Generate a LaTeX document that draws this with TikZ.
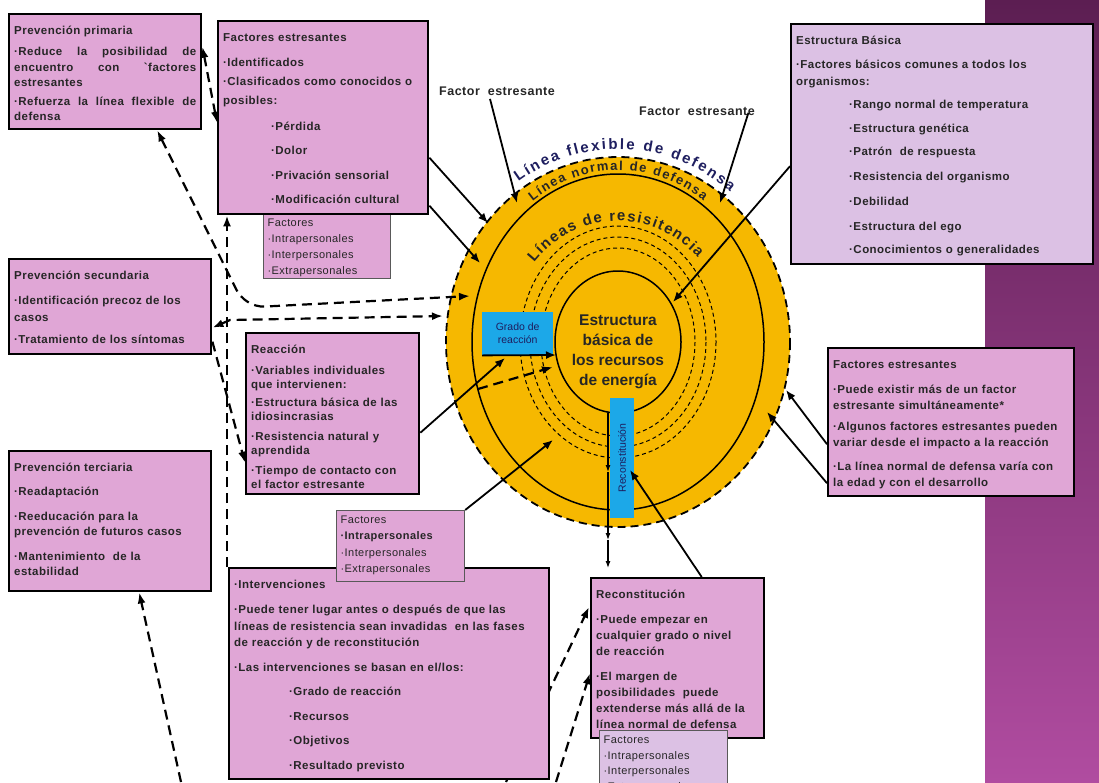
\documentclass[tikz,border=0pt]{standalone}
\usepackage{fontspec}
\setmainfont{Liberation Sans}
\newfontfamily\slidefont{Liberation Sans}[LetterSpace=4]
\newfontfamily\arcfont{Liberation Sans}
\usetikzlibrary{arrows.meta,decorations.text}

\definecolor{pinkbox}{RGB}{224,166,214}
\definecolor{lilabox}{RGB}{220,193,228}
\definecolor{discorange}{RGB}{246,184,0}
\definecolor{bluebar}{RGB}{28,168,232}
\definecolor{inknavy}{RGB}{30,30,95}
\definecolor{inkgray}{RGB}{38,38,38}
\definecolor{bandtop}{RGB}{92,30,82}
\definecolor{bandbot}{RGB}{176,76,160}

\newcommand\flexfont{\arcfont\bfseries\fontsize{15}{15}\selectfont\color{inknavy}}
\newcommand\defensefont{\arcfont\bfseries\fontsize{13}{13}\selectfont\color{inkgray}}
\newcommand\resistfont{\arcfont\bfseries\fontsize{15}{15}\selectfont\color{inkgray}}

\begin{document}
\begin{tikzpicture}[x=1pt,y=-1pt,
    box/.style = {draw, line width=2.4pt, fill=pinkbox, anchor=north west, align=left,
      inner xsep=5pt, inner ysep=6pt, text height=14pt, text=inkgray,
      font=\slidefont\bfseries\fontsize{11.5}{#1}\selectfont},
    box/.default = 16,
    factbox/.style = {draw=black!65, line width=1.2pt, fill=pinkbox, anchor=north west, align=left,
      inner xsep=4pt, inner ysep=3pt, text height=10pt, text=inkgray,
      font=\slidefont\fontsize{11}{#1}\selectfont},
    factbox/.default = 16,
    bar/.style = {fill=bluebar, inner sep=0pt, align=center, text=inknavy,
      font=\fontsize{10.5}{13}\selectfont},
    stresslbl/.style = {font=\slidefont\bfseries\fontsize{12.5}{14}\selectfont, text=inkgray},
    arr/.style = {line width=1.8pt, -{Latex[length=10pt,width=8pt]}},
    thinarr/.style = {line width=1.1pt, -{Latex[length=7pt,width=5pt]}},
    dasharr/.style = {line width=2.2pt, dash pattern=on 10pt off 6pt, -{Latex[length=11pt,width=8pt]}},
    dboth/.style = {dasharr, {Latex[length=11pt,width=8pt]}-{Latex[length=11pt,width=8pt]}},
    ring/.style = {line width=1pt, dash pattern=on 4pt off 3pt},
  ]
  \path[use as bounding box, fill=white] (0,0) rectangle (1099,782);
  % purple band on the right
  \shade[top color=bandtop, bottom color=bandbot] (985,0) rectangle (1099,782);

  % the rings
  \coordinate (ctr) at (618,342);
  \fill[discorange] (ctr) ellipse [x radius=172, y radius=185];
  \draw[line width=1.8pt, dash pattern=on 8pt off 5pt] (ctr) ellipse [x radius=172, y radius=185];
  \draw[line width=1.5pt] (ctr) ellipse [x radius=146, y radius=168];
  \foreach \rx/\ry in {77/94, 88/105, 98/116}
    \draw[ring] (ctr) ellipse [x radius=\rx, y radius=\ry];
  \draw[line width=1.5pt] (ctr) ellipse [x radius=63, y radius=71];

  \path[decorate, decoration={text along path, text align={fit to path},
      text={|\flexfont|Línea flexible de defensa}}]
    (ctr) ++(236:178 and 193) arc[start angle=236, end angle=309, x radius=178, y radius=193];
  \path[decorate, decoration={text along path, text align={fit to path},
      text={|\defensefont|Línea normal de defensa}}]
    (ctr) ++(235:149 and 172) arc[start angle=235, end angle=305, x radius=149, y radius=172];
  \path[decorate, decoration={text along path, text align={fit to path},
      text={|\resistfont|Líneas de resisitencia}}]
    (ctr) ++(221:111 and 121) arc[start angle=221, end angle=316, x radius=111, y radius=121];

  \node[font=\bfseries\fontsize{15.5}{20}\selectfont, align=center, text=inkgray] (core) at (618,352)
    {Estructura\\básica de\\los recursos\\de energía};
  \node[bar, anchor=north west, minimum width=71pt, minimum height=43pt] (grado) at (482,312) {Grado de\\reacción};
  \node[bar, rotate=90, minimum width=120pt, minimum height=24pt] (reconbar) at (622,458) {Reconstitución};

  % targets on the rings
  \coordinate (t1) at (517,203);
  \coordinate (t2) at (720,203);
  \coordinate (t3) at (488,223);
  \coordinate (t4) at (480,263);
  \coordinate (t5) at (673,302);
  \coordinate (t6) at (786,390);
  \coordinate (t7) at (767,412);
  \coordinate (t8) at (505,358);
  \coordinate (t9) at (553,440);
  \coordinate (t10) at (630,470);
  \coordinate (g2) at (556,355);
  \coordinate (r0) at (608,413);
  \coordinate (r1) at (608,472);
  \coordinate (r2) at (608,540);
  \coordinate (r3) at (608,568);
  \coordinate (c1) at (470,296);
  \coordinate (c2) at (443,316);
  \coordinate (c3) at (478,389);
  \coordinate (c4) at (553,367);
  \coordinate (bend1) at (240,297);
  \coordinate (bend2) at (256,307);
  \coordinate (bend3) at (230,320);
  \coordinate (b1) at (181,782);
  \coordinate (b2) at (506,782);
  \coordinate (b3) at (556,782);
  \coordinate (rc1) at (589,607);

  % boxes
  \node[factbox=16, text width=119pt, text depth=49pt] (fsub1) at (263,213)
    {Factores\\·Intrapersonales\\·Interpersonales\\·Extrapersonales};
  \node[box=19, text width=200pt, text depth=167pt] (fest) at (217,20)
    {Factores estresantes\\[6pt]
     ·Identificados\\
     ·Clasificados como conocidos o\\
     posibles:\\[7pt]
     \hspace*{48pt}·Pérdida\\[5.5pt]
     \hspace*{48pt}·Dolor\\[5.5pt]
     \hspace*{48pt}·Privación sensorial\\[5.5pt]
     \hspace*{48pt}·Modificación cultural};
  \node[box=15.5, align=justify, text width=182pt, text depth=89pt] (prim) at (8,13)
    {Prevención primaria\\[6pt]
     ·Reduce la posibilidad de\linebreak encuentro con `factores\linebreak estresantes\\[3pt]
     ·Refuerza la línea flexible de defensa};
  \node[box=17, fill=lilabox, text width=292pt, text depth=214pt] (est) at (790,23)
    {Estructura Básica\\[7pt]
     ·Factores básicos comunes a todos los\\
     organismos:\\[6pt]
     \hspace*{53pt}·Rango normal de temperatura\\[7pt]
     \hspace*{53pt}·Estructura genética\\[6pt]
     \hspace*{53pt}·Patrón\ \ de respuesta\\[8pt]
     \hspace*{53pt}·Resistencia del organismo\\[8pt]
     \hspace*{53pt}·Debilidad\\[8pt]
     \hspace*{53pt}·Estructura del ego\\[6pt]
     \hspace*{53pt}·Conocimientos o generalidades};
  \node[box=17, text width=192pt, text depth=69pt] (sec) at (8,258)
    {Prevención secundaria\\[8pt]
     ·Identificación precoz de los\\
     casos\\[5pt]
     ·Tratamiento de los síntomas};
  \node[box=14, text width=163pt, text depth=135pt] (reac) at (245,332)
    {Reacción\\[7pt]
     ·Variables individuales\\
     que intervienen:\\[4pt]
     ·Estructura básica de las\\
     idiosincrasias\\[6pt]
     ·Resistencia natural y\\
     aprendida\\[6pt]
     ·Tiempo de contacto con\\
     el factor estresante};
  \node[box=15.5, text width=192pt, text depth=114pt] (terc) at (8,450)
    {Prevención terciaria\\[9pt]
     ·Readaptación\\[9pt]
     ·Reeducación para la\\
     prevención de futuros casos\\[9pt]
     ·Mantenimiento\ \ de la\\
     estabilidad};

  % dashed link that runs behind the interventions box
  \draw[dasharr] (b2) -- (rc1);
  \node[box=16.5, text width=310pt, text depth=185pt] (interv) at (228,567)
    {·Intervenciones\\[9pt]
     ·Puede tener lugar antes o después de que las\\
     líneas de resistencia sean invadidas\ \ en las fases\\
     de reacción y de reconstitución\\[8pt]
     ·Las intervenciones se basan en el/los:\\[8pt]
     \hspace*{55pt}·Grado de reacción\\[8pt]
     \hspace*{55pt}·Recursos\\[8pt]
     \hspace*{55pt}·Objetivos\\[8pt]
     \hspace*{55pt}·Resultado previsto};
  \node[factbox=16.3, text width=120pt, text depth=55pt] (fsub2) at (336,510)
    {Factores\\\textbf{·Intrapersonales}\\·Interpersonales\\·Extrapersonales};
  \node[box=16, text width=236pt, text depth=122pt] (fright) at (827,347)
    {Factores estresantes\\[9pt]
     ·Puede existir más de un factor\\
     estresante simultáneamente*\\[5pt]
     ·Algunos factores estresantes pueden\\
     variar desde el impacto a la reacción\\[8pt]
     ·La línea normal de defensa varía con\\
     la edad y con el desarrollo};
  \node[box=16, text width=163pt, text depth=134pt] (recon) at (590,577)
    {Reconstitución\\[9pt]
     ·Puede empezar en\\
     cualquier grado o nivel\\
     de reacción\\[9pt]
     ·El margen de\\
     posibilidades\ \ puede\\
     extenderse más allá de la\\
     línea normal de defensa};
  \node[factbox=15.5, fill=lilabox, text width=120pt, text depth=67pt] (fsub3) at (599,730)
    {Factores\\·Intrapersonales\\·Interpersonales\\·Extrapersonales};

  \node[stresslbl] (stress1) at (497,91) {Factor\ \ estresante};
  \node[stresslbl] (stress2) at (697,111) {Factor\ \ estresante};

  % solid arrows
  \draw[arr] ([xshift=-7pt]stress1.south) -- (t1);
  \draw[arr] ([xshift=-10pt,yshift=6pt]stress2.south east) -- (t2);
  \draw[arr] ([yshift=-40pt]fest.east) -- (t3);
  \draw[arr] ([yshift=-88pt]fest.east) -- (t4);
  \draw[arr] ([yshift=-22pt]est.west) -- (t5);
  \draw[arr] ([yshift=-22pt]fright.west) -- (t6);
  \draw[arr] ([yshift=-61pt]fright.west) -- (t7);
  \draw[arr] ([yshift=-19pt]reac.east) -- (t8);
  \draw[arr] (fsub2.north east) -- (t9);
  \draw[arr] ([xshift=24pt]recon.north) -- (t10);
  \draw[arr] (grado.south west) -- (g2);
  \draw[thinarr] (r0) -- (r1);
  \draw[thinarr] (r1) -- (r2);
  \draw[thinarr] (r2) -- (r3);

  % dashed links
  \draw[dboth] ([yshift=25pt]prim.east) -- ([yshift=-5pt]fest.west);
  \draw[dboth, rounded corners=8pt] ([xshift=52pt]prim.south) -- (bend1) -- (bend2) -- (c1);
  \draw[dasharr] ([xshift=-1pt]interv.north west) -- ([xshift=10pt]fest.south west);
  \draw[dboth] ([yshift=-21pt]sec.east) -- (bend3) -- (c2);
  \draw[dasharr] ([yshift=-35pt]sec.east) -- ([yshift=-49pt]reac.west);
  \draw[dasharr] (c3) -- (c4);
  \draw[dasharr] (b1) -- ([xshift=29pt]terc.south);
  \draw[dasharr] (b3) -- ([yshift=-15pt]recon.west);
\end{tikzpicture}
\end{document}
